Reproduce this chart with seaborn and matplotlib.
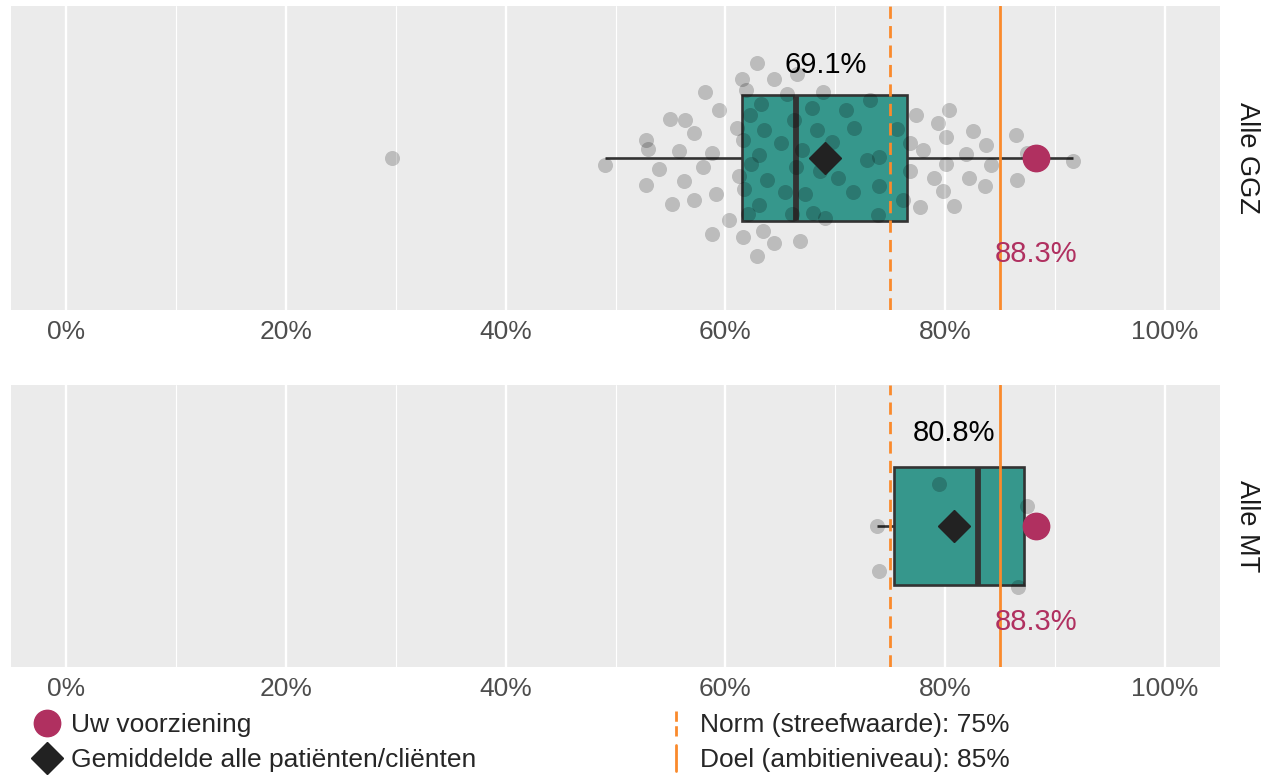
import numpy as np
import pandas as pd
import matplotlib
matplotlib.use("Agg")
import matplotlib.pyplot as plt
from matplotlib.lines import Line2D
from matplotlib.legend_handler import HandlerBase
from matplotlib.ticker import FixedLocator, FuncFormatter
import seaborn as sns

# ---- data -------------------------------------------------------------
panels = ["Alle GGZ", "Alle MT"]

# scores of the other facilities (own facility listed separately below)
ggz_scores = [
    29.7, 49.0, 52.8, 53.0, 52.8, 54.0, 55.0, 56.3, 57.1, 55.8, 56.2, 55.1,
    57.1, 58.1, 59.4, 58.8, 58.0, 59.1, 58.8, 60.3, 61.1, 61.5, 61.9, 61.6,
    61.2, 61.7, 62.1, 61.6, 62.9, 63.4, 64.4, 62.9, 64.4, 66.5, 66.8, 62.2,
    63.2, 63.5, 63.1, 62.3, 63.8, 63.1, 65.1, 65.6, 66.2, 65.4, 66.1, 66.4,
    67.0, 67.2, 67.9, 68.3, 68.9, 68.6, 69.7, 70.2, 68.0, 69.1, 71.0, 71.7,
    71.6, 72.9, 73.2, 74.0, 74.0, 73.9, 75.6, 76.2, 76.8, 76.8, 77.3, 78.0,
    77.7, 79.0, 79.3, 80.1, 80.1, 79.8, 80.3, 80.8, 81.9, 82.2, 82.5, 83.7,
    84.2, 83.6, 86.4, 86.5, 87.4, 91.6,
]
mt_scores = [73.8, 74.0, 79.4, 86.6, 87.4]

panel_scores = [ggz_scores, mt_scores]
panel_means = [69.1, 80.8]          # average over all patients / clients
own_scores = [88.3, 88.3]           # "Uw voorziening"
norm_value = 75                     # streefwaarde
goal_value = 85                     # ambitieniveau

x_ticks = [0, 20, 40, 60, 80, 100]
x_minor = [10, 30, 50, 70, 90]

legend_labels = [
    "Uw voorziening",
    "Gemiddelde alle patiënten/cliënten",
    "Norm (streefwaarde): 75%",
    "Doel (ambitieniveau): 85%",
]

# ---- style ------------------------------------------------------------
TEAL = "#36978C"
MAROON = "#B03060"
ORANGE = "#FA8A2C"
PANEL_BG = "#EBEBEB"
DARK = "#333333"

sns.set_theme(style="white")
plt.rcParams["font.family"] = ["Liberation Sans", "DejaVu Sans"]

W, H = 1272, 776
fig = plt.figure(figsize=(W / 100, H / 100), dpi=100)

# panel extents in pixels: (left, top, right, bottom)
panel_px = [(11, 6, 1220, 310), (11, 385, 1220, 667)]


def px_axes(l, t, r, b):
    return fig.add_axes([l / W, 1 - b / H, (r - l) / W, (b - t) / H])


def van_der_corput(n, base=2):
    seq = []
    for k in range(1, n + 1):
        v, denom, q = 0.0, 1.0, k
        while q > 0:
            q, r = divmod(q, base)
            denom *= base
            v += r / denom
        seq.append(v)
    return np.array(seq)


def quasirandom_offsets(values, width=0.4):
    """Density-scaled quasirandom spread around the category centre."""
    v = np.asarray(values, float)
    n = len(v)
    sd = v.std(ddof=1)
    q75, q25 = np.percentile(v, [75, 25])
    spread = min(sd, (q75 - q25) / 1.34) if q75 > q25 else sd
    bw = 0.9 * spread * n ** -0.2
    grid = np.linspace(v.min() - 3 * bw, v.max() + 3 * bw, 1024)
    dens_grid = np.exp(-0.5 * ((grid[:, None] - v[None, :]) / bw) ** 2).sum(1)
    dens_pts = np.interp(v, grid, dens_grid) / dens_grid.max()
    ranks = np.argsort(np.argsort(v, kind="stable"), kind="stable")
    vdc = van_der_corput(n)[ranks]
    return (vdc - 0.5) * 2 * dens_pts * width


norm_ls = (0, (4.4, 2.6))

for i, name in enumerate(panels):
    ax = px_axes(*panel_px[i])
    ax.set_facecolor(PANEL_BG)

    # other facilities: shown as points
    pts = pd.DataFrame({"score": panel_scores[i]})
    pts["spread"] = quasirandom_offsets(pts["score"])
    # box summarises all facilities, own one included
    box = pd.DataFrame({"score": panel_scores[i] + [own_scores[i]],
                        "groep": name})

    sns.boxplot(
        data=box, x="score", y="groep", orient="h", ax=ax,
        width=0.5, color=TEAL, saturation=1, linecolor=DARK,
        linewidth=1.9, showfliers=False, showcaps=False,
        medianprops=dict(linewidth=4.2, color=DARK),
        boxprops=dict(zorder=2), whiskerprops=dict(zorder=2),
    )
    sns.scatterplot(
        data=pts, x="score", y="spread", ax=ax, color="black", alpha=0.2,
        s=117, linewidth=0, legend=False, zorder=3,
    )

    ax.axvline(norm_value, color=ORANGE, lw=2.0, ls=norm_ls, zorder=4)
    ax.axvline(goal_value, color=ORANGE, lw=2.0, zorder=4)

    ax.plot(panel_means[i], 0, marker="D", ms=16.3, color="#222222",
            ls="none", zorder=6)
    ax.plot(own_scores[i], 0, marker="o", ms=19, color=MAROON,
            ls="none", zorder=6)

    ax.annotate(f"{panel_means[i]:.1f}%", (panel_means[i], 0),
                xytext=(0, 67), textcoords="offset points",
                ha="center", va="center", fontsize=21, color="black",
                zorder=7)
    ax.annotate(f"{own_scores[i]:.1f}%", (own_scores[i], 0),
                xytext=(0, -69), textcoords="offset points",
                ha="center", va="center", fontsize=21, color=MAROON,
                zorder=7)

    ax.set_xlim(-5, 105)
    ax.set_ylim(-0.6, 0.6)
    ax.xaxis.set_major_locator(FixedLocator(x_ticks))
    ax.xaxis.set_minor_locator(FixedLocator(x_minor))
    ax.xaxis.set_major_formatter(FuncFormatter(lambda v, p: f"{v:.0f}%"))
    ax.grid(which="major", axis="x", color="white", lw=1.7, zorder=0)
    ax.grid(which="minor", axis="x", color="white", lw=0.8, zorder=0)
    ax.grid(which="major", axis="y", visible=False)
    ax.set_axisbelow(True)
    ax.tick_params(axis="x", which="both", length=0, pad=7,
                   labelsize=19, labelcolor="#4D4D4D")
    ax.set_yticks([])
    ax.set_xlabel("")
    ax.set_ylabel("")
    for s in ax.spines.values():
        s.set_visible(False)

    ax.text(1.0223, 0.5, name, transform=ax.transAxes, rotation=-90,
            ha="center", va="center", fontsize=19.5, color="#1A1A1A")


class VLineHandler(HandlerBase):
    """Legend key drawn as a short vertical line in the handle's style."""

    def create_artists(self, legend, orig_handle, xdescent, ydescent,
                       width, height, fontsize, trans):
        cx = width / 2 - xdescent
        line = Line2D([cx, cx], [-ydescent - 0.2 * height,
                                 -ydescent + 1.2 * height],
                      color=orig_handle.get_color(),
                      lw=orig_handle.get_linewidth(),
                      ls=orig_handle.get_linestyle(), transform=trans)
        return [line]


own_handle = Line2D([], [], marker="o", ms=19, color=MAROON, ls="none")
mean_handle = Line2D([], [], marker="D", ms=16.3, color="#222222", ls="none")
norm_handle = Line2D([], [], color=ORANGE, lw=2.0, ls=(0, (4.0, 1.6)))
goal_handle = Line2D([], [], color=ORANGE, lw=2.0)

leg_kw = dict(frameon=False, loc="upper left", borderaxespad=0, borderpad=0,
              handlelength=1.0, handletextpad=0.4, labelspacing=0.43,
              fontsize=19)
leg1 = fig.legend([own_handle, mean_handle], legend_labels[:2],
                  bbox_to_anchor=(34 / W, 1 - 713 / H), **leg_kw)
leg2 = fig.legend([norm_handle, goal_handle], legend_labels[2:],
                  bbox_to_anchor=(663 / W, 1 - 713 / H),
                  handler_map={Line2D: VLineHandler()}, **leg_kw)

fig.savefig("out.png", dpi=100)
